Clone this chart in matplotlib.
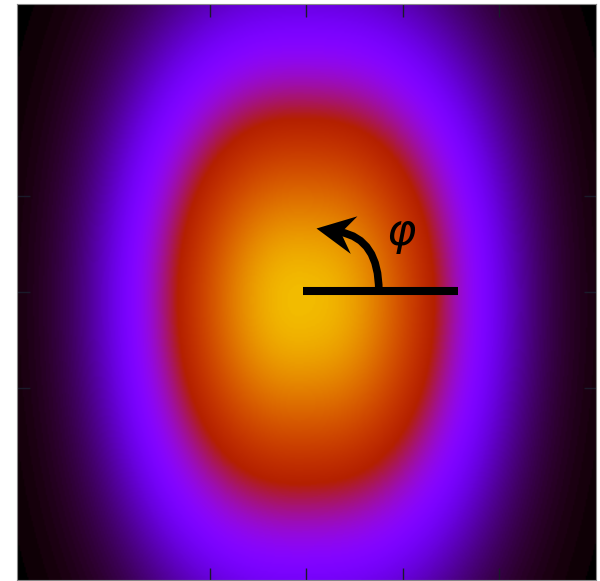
import numpy as np
import matplotlib
matplotlib.use("Agg")
import matplotlib.pyplot as plt
from matplotlib.path import Path
from matplotlib.markers import MarkerStyle
from matplotlib.transforms import Affine2D

# intensity profile of the spot (data units, axes span -3..3)
spot_center = [0.027, -0.13]
spot_width = [1.65, 2.445]
spot_power = [2.47, 2.1]
spot_peak = 0.9
spot_tilt = [-0.025, 0.01]

extent = [-3, 3, -3, 3]
xticks = [-1, 0, 1, 2]
yticks = [-1, 0, 1]

# angle marker: reference bar, curved arrow and its label
bar_start = [-0.04, 0.01]
bar_end = [1.57, 0.01]
arrow_tail = [0.75, 0.01]
arrow_neck = [0.347, 0.625]
arrow_tip = [0.10, 0.667]
arrow_angle = 170
phi_pos = [0.98, 0.60]

x = np.linspace(extent[0], extent[1], 400)
y = np.linspace(extent[2], extent[3], 400)
X, Y = np.meshgrid(x, y)
dx = np.abs(X - spot_center[0]) / spot_width[0]
dy = np.abs(Y - spot_center[1]) / spot_width[1]
Z = spot_peak * np.exp(-dx**spot_power[0]) * np.exp(-dy**spot_power[1])
Z = Z * (1 + spot_tilt[0] * (X - spot_center[0]) + spot_tilt[1] * (Y - spot_center[1]))

fig = plt.figure(figsize=(6.0, 5.81), dpi=100)
ax = fig.add_axes([0.0283, 0.0017, 0.965, 0.9914])
ax.imshow(Z, cmap="gnuplot", vmin=0, vmax=1, origin="lower", extent=extent,
          aspect="auto", interpolation="bilinear")

ax.set_xticks(xticks)
ax.set_yticks(yticks)
ax.set_xticklabels([])
ax.set_yticklabels([])
ax.tick_params(direction="in", length=9, width=1, color="#1a1a2a",
               top=True, right=True)
for s in ax.spines.values():
    s.set_color("#888888")
    s.set_linewidth(0.8)

ax.plot([bar_start[0], bar_end[0]], [bar_start[1], bar_end[1]],
        color="black", lw=5.8, solid_capstyle="butt")

# curved shaft: leaves the bar vertically, ends along the head direction
ax.annotate("", xy=arrow_neck, xytext=arrow_tail,
            arrowprops=dict(arrowstyle="-",
                            connectionstyle=f"angle3,angleA=90,angleB={arrow_angle}",
                            color="black", lw=5.5, shrinkA=0, shrinkB=0))

# barbed arrow head, tip at the origin of the marker path
head = Path([(0, 0), (-1, 0.5), (-0.65, 0), (-1, -0.5), (0, 0)],
            [Path.MOVETO, Path.LINETO, Path.LINETO, Path.LINETO, Path.CLOSEPOLY])
head_marker = MarkerStyle(head, transform=Affine2D().rotate_deg(arrow_angle))
ax.plot([arrow_tip[0]], [arrow_tip[1]], marker=head_marker, markersize=55,
        color="black", markeredgewidth=0, linestyle="none")

ax.text(phi_pos[0], phi_pos[1], r"$\varphi$", fontsize=32, color="black",
        ha="center", va="center")

ax.set_xlim(extent[0], extent[1])
ax.set_ylim(extent[2], extent[3])
fig.savefig("out.png", dpi=100)
